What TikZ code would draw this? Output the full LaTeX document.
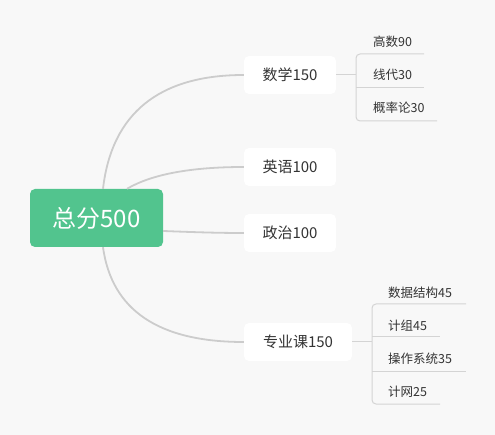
\documentclass[tikz,border=0pt]{standalone}
\usepackage{fontspec}
\setmainfont{Noto Sans CJK SC}
\definecolor{bg}{HTML}{F8F8F8}
\definecolor{rootgreen}{HTML}{52C48E}
\definecolor{conn}{HTML}{CCCCCC}
\definecolor{subl}{HTML}{D4D4D4}
\definecolor{txt}{HTML}{333333}
\begin{document}
\begin{tikzpicture}[x=1pt,y=-1pt,
  rootbox/.style={fill=rootgreen, rounded corners=5pt, minimum width=133pt, minimum height=58pt, inner sep=0pt, text=white, font=\fontsize{24}{28}\selectfont},
  lonebox/.style={fill=white, rounded corners=5pt, minimum height=38pt, inner sep=0pt, text=txt, font=\fontsize{15}{18}\selectfont},
  leaf/.style={anchor=west, inner sep=0pt, text=txt, font=\fontsize{12.5}{15}\selectfont},
  mainconn/.style={draw=conn, line width=1.8pt},
  subconn/.style={draw=subl, line width=1pt}]
\fill[bg] (0,0) rectangle (495,435);
\useasboundingbox (0,0) rectangle (495,435);

\node[rootbox] (root) at (96.5,218) {总分500};
\node[lonebox, minimum width=92pt] (m) at (290,75) {数学150};
\node[lonebox, minimum width=92pt] (e) at (290,167) {英语100};
\node[lonebox, minimum width=92pt] (z) at (290,233) {政治100};
\node[lonebox, minimum width=108pt] (p) at (298,342) {专业课150};

\draw[mainconn] ([xshift=6.5pt]root.north) .. controls (111.7,113.7) and (158.7,75) .. (m.west);
\draw[mainconn] ([xshift=30.5pt]root.north) .. controls (151.7,174.3) and (190.7,167) .. (e.west);
\draw[mainconn] ([yshift=-13pt]root.east) .. controls (190,232) and (215,233) .. (z.west);
\draw[mainconn] ([xshift=6.5pt]root.south) .. controls (111.7,310.3) and (158.7,342) .. (p.west);

% 数学 children
\node[leaf] (m1) at (373,42) {高数90};
\node[leaf] (m2) at (373,75) {线代30};
\node[leaf] (m3) at (373,108) {概率论30};
\coordinate (mj) at (356,75);
\coordinate (m1a) at (356,54); \coordinate (m1b) at (424,54);
\coordinate (m2a) at (356,88); \coordinate (m2b) at (424,88);
\coordinate (m3a) at (356,121); \coordinate (m3b) at (437,121);
\draw[subconn] (m.east) -- (mj);
\draw[subconn, rounded corners=4pt] (m1b) -- (m1a) -- (m3a) -- (m3b);
\draw[subconn] (m2a) -- (m2b);

% 专业课 children
\node[leaf] (p1) at (388,293) {数据结构45};
\node[leaf] (p2) at (388,326) {计组45};
\node[leaf] (p3) at (388,359) {操作系统35};
\node[leaf] (p4) at (388,392) {计网25};
\coordinate (pj) at (372,342);
\coordinate (p1a) at (372,304); \coordinate (p1b) at (466,304);
\coordinate (p2a) at (372,337); \coordinate (p2b) at (440,337);
\coordinate (p3a) at (372,371); \coordinate (p3b) at (466,371);
\coordinate (p4a) at (372,404); \coordinate (p4b) at (440,404);
\draw[subconn] (p.east) -- (pj);
\draw[subconn, rounded corners=4pt] (p1b) -- (p1a) -- (p4a) -- (p4b);
\draw[subconn] (p2a) -- (p2b);
\draw[subconn] (p3a) -- (p3b);
\end{tikzpicture}
\end{document}
